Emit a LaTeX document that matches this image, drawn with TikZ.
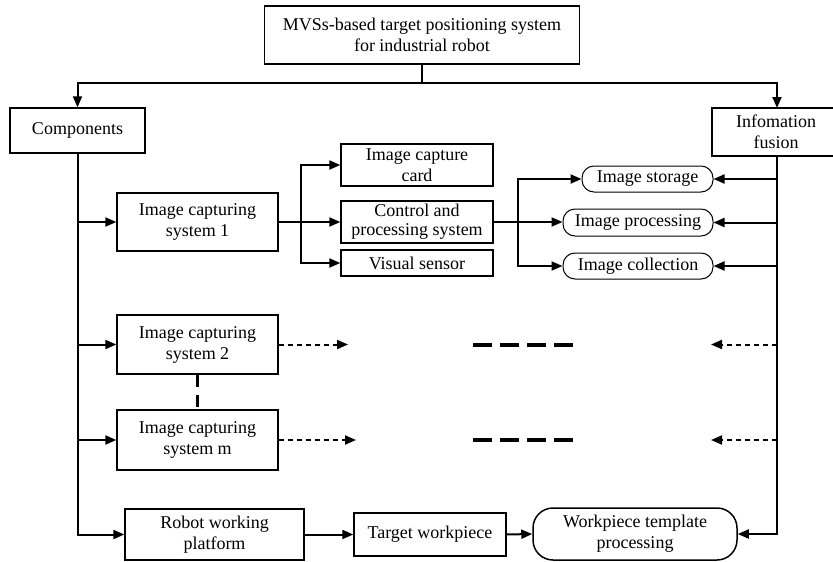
\documentclass[tikz,border=0pt]{standalone}
\usepackage{fontspec}
\setmainfont{Liberation Serif}
\usetikzlibrary{arrows.meta}
\begin{document}
\begin{tikzpicture}[x=1pt,y=-1pt,
  every node/.style={font=\fontsize{18}{21}\selectfont, align=center, inner sep=0pt},
  box/.style={draw, line width=1.3pt, minimum width=#1},
  pill/.style={draw, line width=1pt, rounded corners=12pt, minimum width=#1},
  conn/.style={line width=2pt},
  arr/.style={conn, -{Triangle[length=11pt,width=9pt]}},
  darr/.style={line width=2pt, dash pattern=on 5pt off 4pt, -{Triangle[length=11pt,width=9pt]}},
  thickdash/.style={line width=4pt, dash pattern=on 19pt off 8pt},
]
\useasboundingbox (0,0) rectangle (833,562);
\fill[white] (0,0) rectangle (833,562);

% nodes
\node[box=315pt, minimum height=58pt] (top) at (422,35) {MVSs-based target positioning system\\for industrial robot};
\node[box=135pt, minimum height=45pt] (comp) at (77.5,130.5) {Components};
\node[box=128pt, minimum height=48pt] (info) at (776,132) {Infomation\\fusion};

\node[box=161pt, minimum height=58pt] (sys1) at (197.5,222) {Image capturing\\system 1};
\node[box=161pt, minimum height=59pt] (sys2) at (197.5,344.5) {Image capturing\\system 2};
\node[box=161pt, minimum height=60pt] (sysm) at (197.5,440) {Image capturing\\system m};

\node[box=152pt, minimum height=42pt] (card) at (417,165) {Image capture\\card};
\node[box=152pt, minimum height=42pt, font=\fontsize{18}{19}\selectfont] (ctrl) at (417,222) {Control and\\processing system};
\node[box=152pt, minimum height=26pt] (vis) at (417,263) {Visual sensor};

\node[pill=131pt, minimum height=26pt] (store) at (647.5,179) {Image storage};
\node[pill=150pt, minimum height=27pt] (proc) at (638,222.5) {Image processing};
\node[pill=150pt, minimum height=26pt] (coll) at (638,266) {Image collection};

\node[box=179pt, minimum height=51pt] (plat) at (214.5,534.5) {Robot working\\platform};
\node[box=152pt, minimum height=43pt] (targ) at (430,534.5) {Target workpiece};
\node[draw, line width=1.5pt, rounded corners=20pt, minimum width=204pt, minimum height=52pt] (tmpl) at (635,534) {Workpiece template\\processing};

% helper coordinates
\coordinate (hj) at (422,83);
\coordinate (infoN) at (777,108);
\coordinate (iv) at (777,156);
\coordinate (j1) at (301,222);
\coordinate (j2) at (518,222);
\coordinate (d2) at (348,344.5);
\coordinate (dm) at (356,440);
\coordinate (t2a) at (473,344.5);
\coordinate (t2b) at (573,344.5);
\coordinate (tma) at (473,440);
\coordinate (tmb) at (573,440);
\coordinate (l2) at (711,344.5);
\coordinate (lm) at (711,440);

% top tree
\draw[conn] (top.south) -- (hj);
\draw[arr] (hj) -| (comp.north);
\draw[arr] (hj) -| (infoN);

% components spine
\draw[arr] (comp.south) |- (plat.west);
\draw[arr] (comp.south |- sys1.west) -- (sys1.west);
\draw[arr] (comp.south |- sys2.west) -- (sys2.west);
\draw[arr] (comp.south |- sysm.west) -- (sysm.west);

% system 1 branches
\draw[conn] (sys1.east) -- (j1);
\draw[arr] (j1) |- (card.west);
\draw[arr] (j1) -- (ctrl.west);
\draw[arr] (j1) |- (vis.west);

\draw[conn] (ctrl.east) -- (j2);
\draw[arr] (j2) |- (store.west);
\draw[arr] (j2) -- (j2 -| proc.west);
\draw[arr] (j2) |- (coll.west);

% information fusion spine
\draw[arr] (iv) |- (tmpl.east);
\draw[arr] (iv |- store.east) -- (store.east);
\draw[arr] (iv |- proc.east) -- (proc.east);
\draw[arr] (iv |- coll.east) -- (coll.east);

% dashed rows
\draw[darr] (sys2.east) -- (d2);
\draw[darr] (sysm.east) -- (dm);
\draw[thickdash] (t2a) -- (t2b);
\draw[thickdash] (tma) -- (tmb);
\draw[darr] (iv |- l2) -- (l2);
\draw[darr] (iv |- lm) -- (lm);
\draw[line width=3.5pt, dash pattern=on 12pt off 8pt] (sys2.south) -- (sysm.north);

% bottom row
\draw[arr] (plat.east) -- (targ.west);
\draw[arr] (targ.east) -- (tmpl.west);
\end{tikzpicture}
\end{document}
